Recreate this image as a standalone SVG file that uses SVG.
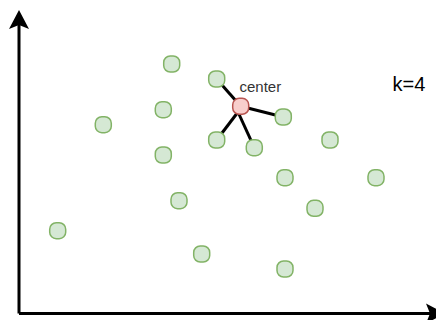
<svg xmlns="http://www.w3.org/2000/svg" width="436" height="320" viewBox="0 0 436 320">
<style>
.pt{fill:#d5e8d4;stroke:#82b366;stroke-width:1.5}
.ctr{fill:#f8cecc;stroke:#b85450;stroke-width:1.5}
.ax{stroke:#000;stroke-width:3;fill:none}
.ln{stroke:#000;stroke-width:3;fill:none}
.lbl{font-family:"Liberation Sans",Arial,sans-serif;fill:#000}
</style>
<defs>
<path id="ah" d="M0,0 L-19,-10 L-15,0 L-19,10 Z" fill="#000"/>
</defs>
<g id="axes">
<line class="ax" x1="19" y1="313.5" x2="19" y2="24"/>
<line class="ax" x1="19" y1="313.5" x2="432" y2="313.5"/>
<use href="#ah" transform="translate(19,10) rotate(-90)"/>
<use href="#ah" transform="translate(445,313.5)"/>
</g>
<g id="connectors">
<line class="ln" x1="240.7" y1="106.3" x2="216.7" y2="79"/>
<line class="ln" x1="240.7" y1="106.3" x2="283.3" y2="117"/>
<line class="ln" x1="238" y1="112" x2="216.7" y2="140"/>
<line class="ln" x1="238" y1="112" x2="254.3" y2="147.7"/>
</g>
<g id="n1"><rect class="pt" x="163.7" y="56" width="16" height="16" rx="6.5"/></g>
<g id="n2"><rect class="pt" x="208.7" y="71" width="16" height="16" rx="6.5"/></g>
<g id="n3"><rect class="pt" x="155.3" y="101.7" width="16" height="16" rx="6.5"/></g>
<g id="n4"><rect class="pt" x="95.3" y="116.7" width="16" height="16" rx="6.5"/></g>
<g id="n5"><rect class="pt" x="275.3" y="109" width="16" height="16" rx="6.5"/></g>
<g id="n6"><rect class="pt" x="208.7" y="132" width="16" height="16" rx="6.5"/></g>
<g id="n7"><rect class="pt" x="246.3" y="139.7" width="16" height="16" rx="6.5"/></g>
<g id="n8"><rect class="pt" x="322" y="132" width="16" height="16" rx="6.5"/></g>
<g id="n9"><rect class="pt" x="155.3" y="147" width="16" height="16" rx="6.5"/></g>
<g id="n10"><rect class="pt" x="277" y="169.7" width="16" height="16" rx="6.5"/></g>
<g id="n11"><rect class="pt" x="368" y="169.7" width="16" height="16" rx="6.5"/></g>
<g id="n12"><rect class="pt" x="171" y="192.7" width="16" height="16" rx="6.5"/></g>
<g id="n13"><rect class="pt" x="307" y="200.3" width="16" height="16" rx="6.5"/></g>
<g id="n14"><rect class="pt" x="49.7" y="222.7" width="16" height="16" rx="6.5"/></g>
<g id="n15"><rect class="pt" x="193.7" y="246" width="16" height="16" rx="6.5"/></g>
<g id="n16"><rect class="pt" x="277" y="261" width="16" height="16" rx="6.5"/></g>
<g id="center"><rect class="ctr" x="232.7" y="98.3" width="16" height="16" rx="6.5"/></g>
<text class="lbl" x="239.5" y="91.5" font-size="15" fill="#333" style="fill:#333">center</text>
<text class="lbl" x="392.5" y="90.7" font-size="20">k=4</text>
</svg>
